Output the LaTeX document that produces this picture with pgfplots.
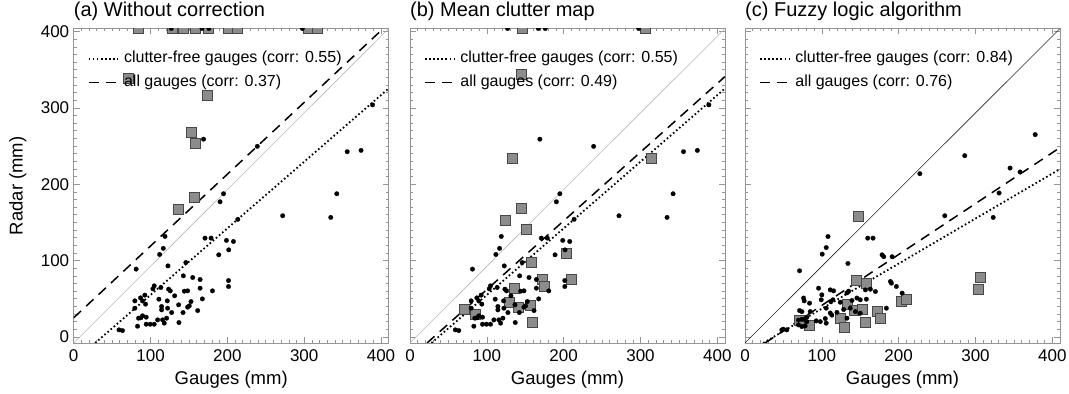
\documentclass[border=0pt]{standalone}
\usepackage{pgfplots}
\pgfplotsset{compat=1.18}
\usepackage{pgfplotstable}
\usepackage{fontspec}
\setmainfont{Liberation Sans}

\definecolor{framegray}{gray}{0.58}
\definecolor{onetoone}{gray}{0.72}
\definecolor{sqfill}{gray}{0.55}
\definecolor{sqdraw}{gray}{0.28}

% clutter-free gauges (same radar totals in panels a and b)
\pgfplotstableread{
x y
195 187.5
190.5 177
213.6 154
118.8 131.6
116.6 116
111.8 108
81.3 88.8
122.7 93
146 97.4
170.9 129.4
178.8 129.4
198.8 126.4
207.9 125
201.8 114
188.8 107.5
142.7 80
154.9 77.8
164.5 75.2
201.5 73.8
201.5 66
164.5 63.8
180.6 60.3
104.8 66.9
103.1 63
113.5 64.7
123.5 62.5
125.7 60.3
144 59.9
148.3 60.3
92.6 54.7
87 51.1
79.6 47.2
89.6 47.2
93.5 42.9
79.6 37.6
110.9 49.4
121.8 47.2
131.4 53.8
136.6 42
152.7 46.3
150.5 40.7
148.3 39
167.5 49.8
161.4 34.5
114.4 39.8
114.4 35.4
122.2 37.6
127.5 31.9
142.3 31.9
94.4 25.8
89.6 27.6
84.4 24.5
83.1 14
94.4 16.6
99.6 16.6
104.8 16.6
109.2 22.3
115.7 22.3
120.9 24.5
117.9 18
137 18.8
59 9.2
63.5 8.3
87.4 25
272 158.7
334.6 156.5
342.4 187.5
239 249.6
169 259
356 242.6
374 244.3
389 304
127 404
167 404
176 404
297.6 404
}\cleanab

% clutter-affected gauges, no correction
\pgfplotstableread{
x y
71.3 338
173.6 316
153 268
158.4 253
157.4 183
135.7 166.6
84.3 404
128 404
143 404
158.6 404
176 404
202 404
213 404
306 404
317 404
}\clutta

% clutter-affected gauges, mean clutter map
\pgfplotstableread{
x y
145 343.6
133.6 233.4
314 233.4
146 404
306.8 404
145 168.7
124 152.5
151.4 140.3
203.6 109.7
157.8 98
173 75.7
210 75.7
175 66
136 63.4
129 45
141.4 39
156.6 40.7
70.5 35.4
84.9 28.9
159 18.8
}\cluttb

% clutter-free gauges, fuzzy logic algorithm
\pgfplotstableread{
x y
227.6 213.8
286 237.4
345 221.2
358 216
377.7 265
330.7 188.5
260 158.7
323 156.5
108 131.5
105.7 117
100.5 108.4
71 86.6
134 96.2
159.7 129.4
166.6 129.4
178.4 107.5
180.6 105
191.5 105
189.3 72.6
190.6 70.4
197.1 66
204.5 57.3
184 37.6
95.7 63.8
76.2 50.9
77 47.2
71 34.5
84 44.2
100 55.1
99.2 48.6
111 61.6
115.3 60.3
134.9 59.9
132.7 57.7
124 45.4
111.8 46.2
114.4 48.6
105.7 37.6
84.9 33.2
80.5 25.8
74 33.2
69.6 22
74 23
77 23
80.5 20
92.7 21
98 20
104.5 24
105.7 18
74 13.5
78.3 14.4
69.6 15.7
50 10
54.4 9.2
47.9 9.2
111 31.3
119.7 32.1
113 28.5
139.2 47.7
145.7 50.9
150 48.6
128.4 35.9
137 37.6
143.6 33.2
150 31
156.7 61.6
163.2 62.5
169.7 59.4
158 49.4
132.7 24.5
}\cleanc

% clutter-affected gauges, fuzzy logic algorithm
\pgfplotstableread{
x y
147.6 157.8
145 74
158 70.4
203.6 46.3
210 48.5
306 78.3
303.5 61.6
133.6 42
143 34.5
152.3 35.4
172.6 33.2
176 24.5
124 24.5
156.7 18.8
130 11.8
71 21
83.4 14.8
}\cluttc

\pgfplotsset{
  gaugeaxis/.style={
    scale only axis, width=315bp, height=314.5bp,
    xmin=0, xmax=410, ymin=-8, ymax=404,
    xtick={0,100,200,300,400}, ytick={0,100,200,300,400},
    minor tick num=9,
    tick align=inside,
    major tick length=6bp, minor tick length=3bp,
    axis line style={framegray, line width=0.7bp},
    every tick/.style={framegray, line width=0.6bp},
    tick label style={font=\fontsize{17bp}{17bp}\selectfont},
    xticklabel style={yshift=-3bp},
    yticklabel style={xshift=-1bp},
    /pgf/number format/assume math mode=true,
    xlabel={Gauges (mm)},
    xlabel style={font=\fontsize{18.5bp}{18.5bp}\selectfont,
      at={(axis description cs:0.5,0)}, anchor=center, yshift=-37bp},
    ylabel style={font=\fontsize{18.5bp}{18.5bp}\selectfont,
      at={(axis description cs:-0.177,0.5)}, anchor=center},
    title style={font=\fontsize{20bp}{20bp}\selectfont,
      at={(axis description cs:0,1)}, anchor=south west, inner sep=0pt, yshift=2bp},
    clip marker paths=true,
    legend cell align=left,
    legend style={draw=none, fill=none, at={(axis description cs:0.044,0.93)},
      anchor=north west, inner sep=0pt, row sep=8bp, column sep=5.5bp,
      font=\fontsize{16bp}{16bp}\selectfont,
      nodes={inner sep=0pt, text height=12bp, text depth=4bp}},
    legend image code/.code={\draw[#1] (0bp,0bp) -- (29bp,0bp);},
  },
  clean/.style={only marks, mark=*, mark size=2.3bp, mark options={fill=black, draw=black, line width=0.2bp}},
  clutter/.style={only marks, mark=square*, mark size=5bp, mark options={fill=sqfill, draw=sqdraw, line width=0.9bp}},
  fitfree/.style={black, line width=1.8bp, dash pattern=on 1.6bp off 2.5bp},
  fitall/.style={black, line width=1.5bp, dash pattern=on 10bp off 7bp},
}

\begin{document}
\begin{tikzpicture}
\useasboundingbox (-73.7bp,-51bp) rectangle (995.3bp,343bp);

% (a) no correction
\begin{axis}[gaugeaxis, at={(0bp,0bp)}, anchor=south west,
  title={(a) Without correction}, ylabel={Radar (mm)}]
  \addplot[onetoone, line width=0.6bp, forget plot] coordinates {(0,-8) (410,404)};
  \addplot[fitfree] coordinates {(27.9,-8) (410,325.5)};
  \addlegendentry{clutter-free gauges (corr: 0.55)}
  \addplot[fitall] coordinates {(0,25) (404,405)};
  \addlegendentry{all gauges (corr: 0.37)}
  \addplot[clutter, forget plot] table {\clutta};
  \addplot[clean, forget plot] table {\cleanab};
\end{axis}

% (b) mean clutter map
\begin{axis}[gaugeaxis, at={(336.3bp,0bp)}, anchor=south west,
  title={(b) Mean clutter map}, yticklabels={}]
  \addplot[onetoone, line width=0.6bp, forget plot] coordinates {(0,-8) (410,404)};
  \addplot[fitfree] coordinates {(27.9,-8) (410,325.5)};
  \addlegendentry{clutter-free gauges (corr: 0.55)}
  \addplot[fitall] coordinates {(22.2,-8) (410,341)};
  \addlegendentry{all gauges (corr: 0.49)}
  \addplot[clutter, forget plot] table {\cluttb};
  \addplot[clean, forget plot] table {\cleanab};
\end{axis}

% (c) fuzzy logic algorithm
\begin{axis}[gaugeaxis, at={(671.3bp,0bp)}, anchor=south west,
  title={(c) Fuzzy logic algorithm}, yticklabels={}]
  \addplot[black!85, line width=0.6bp, forget plot] coordinates {(0,-8) (410,404)};
  \addplot[fitfree] coordinates {(23.7,-8) (410,219.9)};
  \addlegendentry{clutter-free gauges (corr: 0.84)}
  \addplot[fitall] coordinates {(26.1,-8) (410,248)};
  \addlegendentry{all gauges (corr: 0.76)}
  \addplot[clutter, forget plot] table {\cluttc};
  \addplot[clean, forget plot] table {\cleanc};
\end{axis}
\end{tikzpicture}
\end{document}
